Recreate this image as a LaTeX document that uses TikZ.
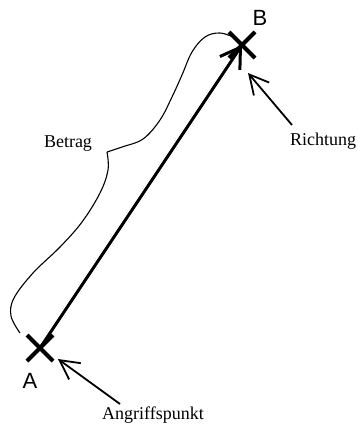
\documentclass[tikz,border=0pt]{standalone}
\usepackage{fontspec}
\setmainfont{Liberation Serif}
\setsansfont{Liberation Sans}
\usetikzlibrary{arrows.meta,shapes.misc}

\begin{document}
\begin{tikzpicture}[
    x=1pt, y=-1pt,
    every node/.style={font=\fontsize{18}{20}\selectfont},
    kreuz/.style={
        cross out,
        draw,
        line width=4pt,
        minimum size=22pt,
        inner sep=0pt
    },
    punkt/.style={font=\sffamily\fontsize{22}{24}\selectfont},
    vektor/.style={line width=3pt, -{Straight Barb[length=19pt,width=24pt]}},
    zeiger/.style={line width=1.8pt, -{Straight Barb[length=19pt,width=20pt]}},
    klammer/.style={line width=1.1pt, line join=round}
]
\useasboundingbox (0,0) rectangle (358,431);

% Angriffspunkt und Endpunkt
\node[kreuz] (A) at (40,348) {};
\node[kreuz] (B) at (242,45) {};
\node[punkt] (labelA) at (30,381) {A};
\node[punkt] (labelB) at (260,18) {B};

% der Vektor
\draw[vektor] (A.center) -- (B.center);

% Beschriftungen
\node (betrag) at (68,144) {Betrag};
\node (richtung) at (323,141) {Richtung};
\node (angriff) at (153,415) {Angriffspunkt};

\coordinate (richtungtail) at (292,125);
\coordinate (richtungtip) at (248,73);
\coordinate (angrifftail) at (120,404);
\coordinate (angrifftip) at (58,359);

\draw[zeiger] (richtungtail) -- (richtungtip);
\draw[zeiger] (angrifftail) -- (angrifftip);

% geschweifte Klammer (Betrag)
\draw[klammer] plot[smooth, tension=0.6] coordinates {
    (20,333) (11,316) (14,298) (33,273) (60,247) (82,222)
    (100,193) (108,170) (107,152)};
\draw[klammer] plot[smooth, tension=0.6] coordinates {
    (107,152) (122,147) (143,139) (160,120) (172,97) (182,75)
    (192,52) (205,37) (220,33) (236,38)};

\end{tikzpicture}
\end{document}
